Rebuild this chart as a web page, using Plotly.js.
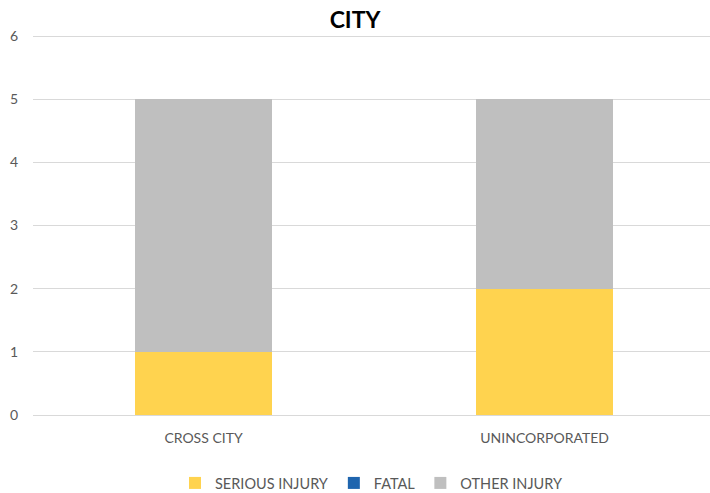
<!DOCTYPE html>
<html><head><meta charset="utf-8">
<script src="https://cdn.plot.ly/plotly-3.0.1.min.js"></script>
<style>html,body{margin:0;padding:0;background:#fff;}#chart{width:710px;height:493px;}</style>
</head><body><div id="chart"></div>
<script>
const categories = ["CROSS CITY", "UNINCORPORATED"];
const seriousInjury = [1, 2];
const fatal = [0, 0];
const otherInjury = [4, 3];
const yTicks = [0, 1, 2, 3, 4, 5, 6];

const font = "Lato, 'Open Sans', sans-serif";
const traces = [
  {type: "bar", name: "SERIOUS INJURY", x: categories, y: seriousInjury, marker: {color: "#FFD34F"}},
  {type: "bar", name: "FATAL", x: categories, y: fatal, marker: {color: "#1F65AE"}},
  {type: "bar", name: "OTHER INJURY", x: categories, y: otherInjury, marker: {color: "#BFBFBF"}}
];
const layout = {
  width: 710, height: 493,
  barmode: "stack", bargap: 0.598,
  margin: {l: 33, r: 0, t: 33, b: 78, autoexpand: false},
  paper_bgcolor: "#fff", plot_bgcolor: "#fff",
  font: {family: font, size: 14, color: "#595959"},
  title: {text: "<b>CITY</b>", x: 0.5, xanchor: "center", y: 0.96, yanchor: "middle", font: {family: font, size: 23, color: "#000"}},
  xaxis: {range: [-0.5, 1.485], showgrid: false, showline: true, linecolor: "#D9D9D9", linewidth: 1, ticks: "", ticklabelstandoff: 10, tickfont: {size: 14, color: "#595959"}},
  yaxis: {range: [0, 6.05], tickvals: yTicks, showgrid: true, gridcolor: "#D9D9D9", gridwidth: 1, zeroline: false, showline: false, ticks: "", ticklabelstandoff: 14, tickfont: {size: 14, color: "#595959"}},
  legend: {orientation: "h", x: 0.5, xanchor: "center", y: -0.178, yanchor: "middle", bgcolor: "rgba(0,0,0,0)", traceorder: "normal", font: {size: 14.5, color: "#595959"}, itemwidth: 30},
  showlegend: true
};
Plotly.newPlot("chart", traces, layout, {staticPlot: true, displayModeBar: false});
</script></body></html>
